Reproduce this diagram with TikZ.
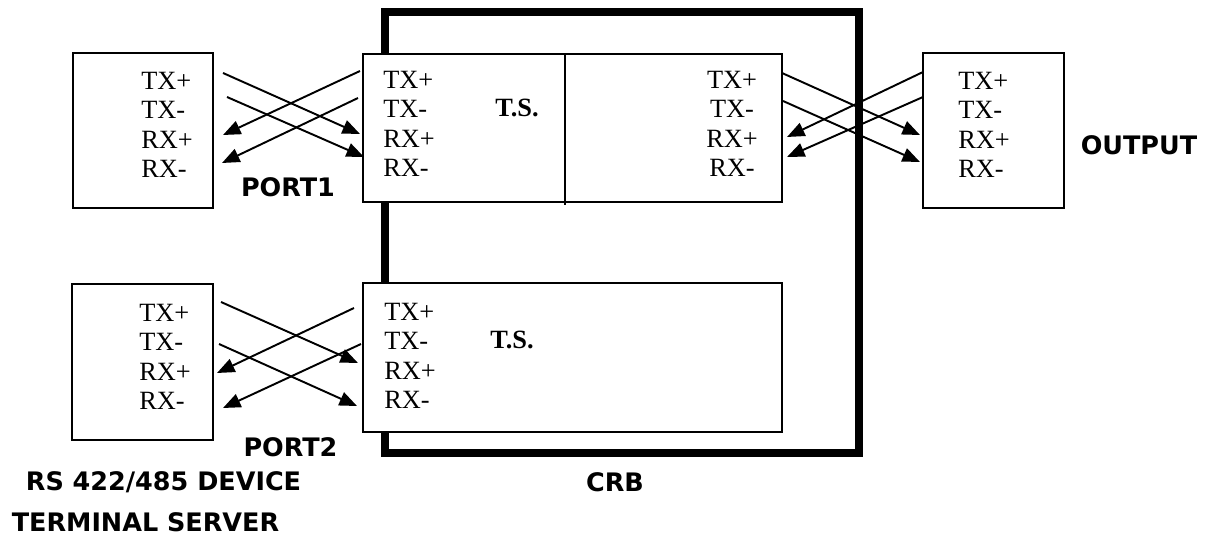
\documentclass[tikz,border=0pt]{standalone}
\usepackage{fontspec}
\setmainfont{Liberation Serif}
\newfontfamily\tagfont{DejaVu Sans}
\usetikzlibrary{arrows.meta}
\tikzset{
  box/.style={draw, line width=0.9pt, fill=white, inner sep=0pt},
  pins/.style={align=left, inner sep=0pt, font=\fontsize{15}{16.8}\selectfont},
  tslbl/.style={inner sep=0pt, font=\fontsize{15}{18}\selectfont\bfseries},
  tag/.style={inner sep=0pt, font=\fontsize{14.5}{17}\selectfont\tagfont\bfseries},
  wire/.style={-{Triangle[length=0.35cm, width=0.28cm]}, line width=1.1pt},
}

\begin{document}
\begin{tikzpicture}[x=0.02cm, y=-0.02cm]
    \useasboundingbox (0,0) rectangle (1211,536);
    % CRB frame
    \draw[line width=4pt] (385,12) rectangle (859,453);
    \node[tag] (crb) at (615,482) {CRB};
    % boxes
    \node[box, minimum width=2.8cm, minimum height=3.1cm] (dev1) at (143,130.5) {};
    \node[box, minimum width=8.38cm, minimum height=2.96cm] (ts1) at (572.5,128) {};
    \node[box, minimum width=2.82cm, minimum height=3.1cm] (out) at (993.5,130.5) {};
    \node[box, minimum width=2.82cm, minimum height=3.12cm] (dev2) at (142.5,362) {};
    \node[box, minimum width=8.38cm, minimum height=2.98cm] (ts2) at (572.5,357.5) {};
    \coordinate (divtop) at (565,54);
    \coordinate (divbot) at (565,205);
    \draw[line width=0.9pt] (divtop) -- (divbot);
    % pin labels
    \node[pins, anchor=west] (pins1) at (141,125) {TX+\\TX-\\RX+\\RX-};
    \node[pins, anchor=west] (pins2) at (383,124) {TX+\\TX-\\RX+\\RX-};
    \node[pins, align=center] (pins3) at (732,124) {TX+\\TX-\\RX+\\RX-};
    \node[pins, anchor=west] (pins4) at (958,125) {TX+\\TX-\\RX+\\RX-};
    \node[pins, anchor=west] (pins5) at (139,357) {TX+\\TX-\\RX+\\RX-};
    \node[pins, anchor=west] (pins6) at (384,356) {TX+\\TX-\\RX+\\RX-};
    \node[tslbl] (ts1lbl) at (517,108) {T.S.};
    \node[tslbl] (ts2lbl) at (512,340) {T.S.};
    % captions
    \node[tag] (port1) at (288,187) {PORT1};
    \node[tag] (port2) at (290.5,447) {PORT2};
    \node[tag] (output) at (1139,145) {OUTPUT};
    \node[tag] (dev) at (163.5,482) {RS 422/485 DEVICE};
    \node[tag] (term) at (145.5,522) {TERMINAL SERVER};
    % wire ends, port 1
    \coordinate (a1) at (223,73);  \coordinate (a2) at (360,134);
    \coordinate (b1) at (227,97);  \coordinate (b2) at (364,157);
    \coordinate (c1) at (360,71);  \coordinate (c2) at (223,135);
    \coordinate (d1) at (358,98);  \coordinate (d2) at (222,163);
    % wire ends, output
    \coordinate (e1) at (782,73);  \coordinate (e2) at (920,135);
    \coordinate (f1) at (783,101); \coordinate (f2) at (920,162);
    \coordinate (g1) at (923,72);  \coordinate (g2) at (787,137);
    \coordinate (h1) at (923,97);  \coordinate (h2) at (787,157);
    % wire ends, port 2
    \coordinate (i1) at (221,302); \coordinate (i2) at (358,363);
    \coordinate (j1) at (219,344); \coordinate (j2) at (357,406);
    \coordinate (k1) at (354,308); \coordinate (k2) at (217,373);
    \coordinate (l1) at (361,344); \coordinate (l2) at (223,408);
    \draw[wire] (a1) -- (a2);
    \draw[wire] (b1) -- (b2);
    \draw[wire] (c1) -- (c2);
    \draw[wire] (d1) -- (d2);
    \draw[wire] (e1) -- (e2);
    \draw[wire] (f1) -- (f2);
    \draw[wire] (g1) -- (g2);
    \draw[wire] (h1) -- (h2);
    \draw[wire] (i1) -- (i2);
    \draw[wire] (j1) -- (j2);
    \draw[wire] (k1) -- (k2);
    \draw[wire] (l1) -- (l2);
\end{tikzpicture}
\end{document}
